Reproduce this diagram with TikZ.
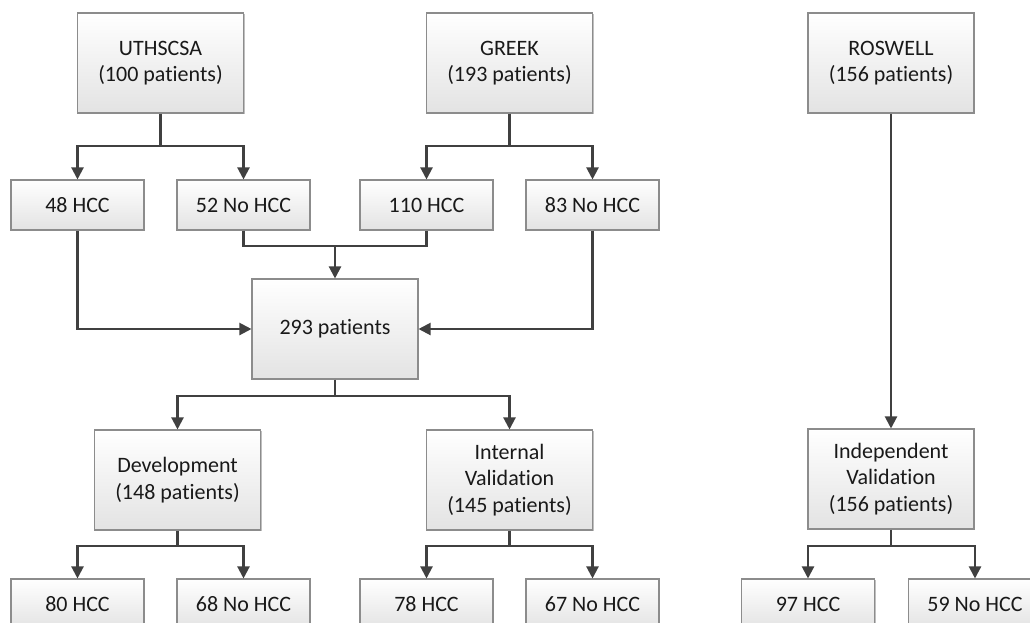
\documentclass[tikz,border=0pt]{standalone}
\usepackage{fontspec}
\setmainfont{Carlito}[Ligatures={NoCommon}]
\usetikzlibrary{arrows.meta,shadows}
\definecolor{lin}{HTML}{404040}
\definecolor{bord}{HTML}{8C8C8C}
\tikzset{
  box/.style={draw=bord, line width=0.8pt, top color=white, bottom color=black!11,
    drop shadow={shadow xshift=0.9pt, shadow yshift=-0.9pt, opacity=0.25, fill=black},
    align=center, inner sep=0pt, font=\fontsize{16.5}{20}\selectfont, text=black!90},
  big/.style={box, minimum width=124.5pt, minimum height=75pt},
  small/.style={box, minimum width=99.75pt, minimum height=37.5pt},
  conn/.style={draw=lin, line width=1.6pt},
  arr/.style={conn, -{Triangle[length=9pt,width=9pt]}}
}
\begin{document}
\begin{tikzpicture}[x=0.75pt,y=-0.75pt]
\clip (0,0) rectangle (1030,622);
\fill[white] (0,0) rectangle (1030,622);
% top boxes
\node[big] (u) at (160.5,63) {UTHSCSA\\(100 patients)};
\node[big] (g) at (509.5,63) {GREEK\\(193 patients)};
\node[big] (r) at (891,63) {ROSWELL\\(156 patients)};
% second row
\node[small] (a1) at (77.5,205) {48 HCC};
\node[small] (a2) at (243.5,205) {52 No HCC};
\node[small] (b1) at (426.5,205) {110 HCC};
\node[small] (b2) at (592.5,205) {83 No HCC};
% merged
\node[big] (m) at (335,329) {293 patients};
% third row
\node[big] (d) at (177.5,480) {Development\\(148 patients)};
\node[big] (iv) at (509.5,480) {Internal\\Validation\\(145 patients)};
\node[big] (ind) at (891,479) {Independent\\Validation\\(156 patients)};
% bottom row
\node[small] (d1) at (77.5,604) {80 HCC};
\node[small] (d2) at (243.5,604) {68 No HCC};
\node[small] (i1) at (426.5,604) {78 HCC};
\node[small] (i2) at (592.5,604) {67 No HCC};
\node[small] (n1) at (808,604) {97 HCC};
\node[small] (n2) at (975,604) {59 No HCC};
% connectors
\coordinate (uj) at (160.5,146);
\draw[conn] (u.south) -- (uj);
\draw[arr] (uj) -| (a1.north);
\draw[arr] (uj) -| (a2.north);
\coordinate (gj) at (509.5,146);
\draw[conn] (g.south) -- (gj);
\draw[arr] (gj) -| (b1.north);
\draw[arr] (gj) -| (b2.north);
\draw[arr] (r.south) -- (ind.north);
\coordinate (mj) at (335,246);
\draw[conn] (a2.south) |- (mj) -| (b1.south);
\draw[arr] (mj) -- (m.north);
\draw[arr] (a1.south) |- (m.west);
\draw[arr] (b2.south) |- (m.east);
\coordinate (mb) at (335,396);
\draw[conn] (m.south) -- (mb);
\draw[arr] (mb) -| (d.north);
\draw[arr] (mb) -| (iv.north);
\coordinate (dj) at (177.5,546);
\draw[conn] (d.south) -- (dj);
\draw[arr] (dj) -| (d1.north);
\draw[arr] (dj) -| (d2.north);
\coordinate (ij) at (509.5,546);
\draw[conn] (iv.south) -- (ij);
\draw[arr] (ij) -| (i1.north);
\draw[arr] (ij) -| (i2.north);
\coordinate (nj) at (891,546);
\draw[conn] (ind.south) -- (nj);
\draw[arr] (nj) -| (n1.north);
\draw[arr] (nj) -| (n2.north);
\end{tikzpicture}
\end{document}
